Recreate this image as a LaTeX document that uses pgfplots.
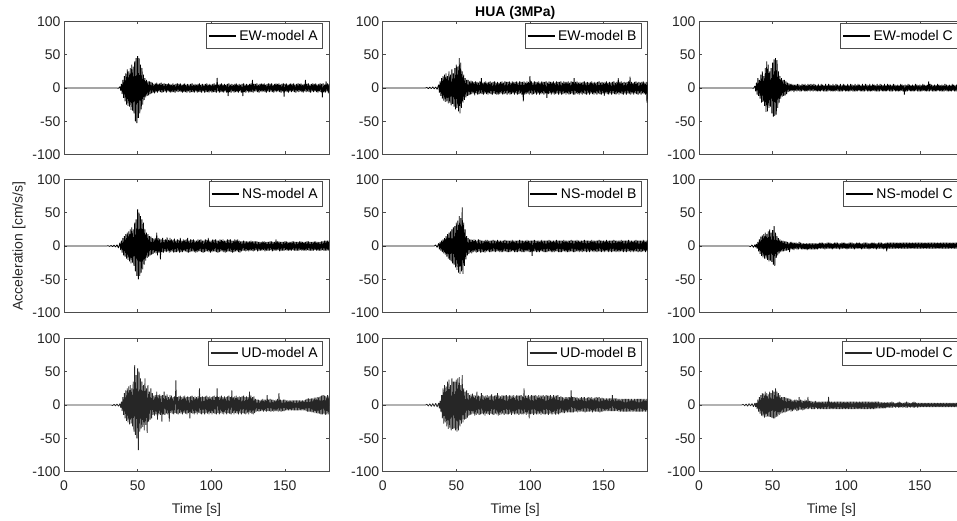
\documentclass[border=0pt]{standalone}
\usepackage{fontspec}
\setmainfont{Liberation Sans}
\usepackage{pgfplots}
\usepackage{pgfplotstable}
\pgfplotsset{compat=1.18}

% accelerograms, cm/s/s, one column per component and model
\pgfplotstableread{
t ewa ewb ewc nsa nsb nsc uda udb udc
0 0 0 0 0 0 0 0 0 0
28 0 0 0 0 0 0 0 0 0
29 0 0 0 0 0 0 0 0 0
30 0 0.8 0 0.5 0 0 0 1 1
31 0 -1 0 -0.6 0 0 0 -1.5 -1.2
32 0 1.2 0 0.8 0 0 0 1.8 1.5
33 0 -1 0 -1 0 0 -0.8 -2 -1.8
34 0 1.5 0 1.2 0 0 1 2.2 2
35 0 -1.2 0 -1.5 0 -1 -1.2 -2 -1.5
36 0 1.5 0 1.8 1.5 1.5 1.5 2.5 2.2
37 -0.5 -2 -0.5 -3 -2 -2 -1.8 -2.8 -2.5
38 2 5 3 5 4 2 2 3 3
38.5 -4 -7 -5 -6 -5 -2 -4 -5 -3
39 6 10 8 8 6 3 5 6 3
39.5 -9 -12 -10 -10 -7 -4 -9 -10 -6
40 12 15 15 12 8 6 12 15 8
40.5 -15 -16 -12 -14 -9 -8 -15 -20 -10
41 18 18 12 15 10 10 18 25 12
41.5 -20 -19 -16 -16 -11 -12 -20 -28 -13
42 22 20 20 18 12 14 22 30 15
42.5 -25 -21 -22 -19 -13 -15 -24 -26 -16
43 28 22 25 20 15 16 25 28 18
43.5 -27 -20 -21 -21 -16 -17 -26 -32 -17
44 25 18 18 22 18 18 28 35 17
44.5 -28 -23 -27 -23 -19 -19 -29 -36 -19
45 30 25 30 25 20 20 30 38 20
45.5 -33 -22 -36 -26 -21 -19 -28 -34 -18
46 35 20 40 28 22 18 25 30 18
46.5 -34 -26 -35 -25 -23 -21 -32 -38 -17
47 32 28 35 25 25 22 35 40 16
47.5 -38 -24 -30 -30 -26 -23 -40 -36 -18
48 40 22 25 35 28 25 60 35 20
48.5 -50 -28 -28 -38 -28 -22 -45 -35 -18
49 45 30 30 40 30 20 45 35 18
49.5 -53 -32 -38 -45 -32 -24 -50 -38 -19
50 48 35 38 55 35 24 55 38 22
50.5 -45 -30 -43 -50 -36 -28 -68 -40 -20
51 45 32 43 50 38 30 50 40 20
51.5 -38 -35 -42 -45 -40 -30 -40 -38 -20
52 35 45 45 45 45 20 40 42 25
52.5 -32 -38 -40 -40 -42 -18 -35 -32 -18
53 30 38 42 40 42 15 35 30 20
53.5 -25 -30 -30 -35 -38 -14 -33 -28 -17
54 20 25 25 35 58 12 30 45 18
54.5 -18 -22 -22 -28 -42 -11 -38 -26 -15
55 15 20 18 25 35 10 40 25 15
55.5 -14 -18 -16 -22 -30 -9 -30 -22 -13
56 12 15 15 20 25 8 25 20 12
56.5 -12 -14 -13 -18 -20 -8 -42 -21 -12
57 10 12 12 18 15 8 30 22 12
57.5 -11 -12 -12 -16 -14 -8 -25 -19 -11
58 10 12 12 15 12 7 20 18 12
58.5 -9 -11 -11 -14 -12 -7 -22 -16 -11
59 9 10 10 14 10 7 25 15 11
59.5 -8 -10 -9 -13 -10 -7 -20 -15 -10
60 8 11 8 12 10 6 18 16 10
60.5 -7 -9 -6 -12 -11 -6 -15 -14 -9
61 6 10 7 11 9 5 14 17 10
61.5 -8 -8 -5 -10 -9 -9 -16 -13 -8
62 7 9 6 12 10 6 15 15 9
62.5 -6 -11 -5 -11 -8 -5 -14 -16 -10
63 8 10 6 20 9 6 20 14 8
63.5 -7 -8 -4 -14 -10 -5 -22 -15 -9
64 6 9 5 12 8 5 15 20 7
64.5 -5 -10 -6 -10 -9 -6 -14 -13 -8
65 7 8 5 11 10 5 16 14 8
65.5 -6 -9 -4 -20 -8 -4 -15 -15 -7
66 8 10 5 10 9 5 14 13 8
66.5 -7 -8 -5 -9 -10 -5 -25 -14 -9
67 6 15 6 12 8 4 15 18 7
67.5 -6 -9 -4 -10 -9 -5 -14 -13 -8
68 7 8 5 9 8 6 20 15 12
68.5 -5 -10 -5 -8 -9 -4 -15 -14 -7
69 6 9 4 10 8 5 14 13 8
69.5 -7 -8 -5 -9 -10 -5 -13 -16 -7
70 6 10 6 13 9 4 16 14 7
70.5 -5 -9 -4 -8 -8 -5 -14 -13 -8
71 7 8 5 9 9 4 12 15 6
71.5 -6 -10 -5 -10 -8 -5 -25 -14 -7
72 6 9 6 12 8 4 15 13 8
72.5 -7 -8 -5 -9 -9 -5 -12 -15 -6
73 5 10 4 10 8 4 14 14 7
73.5 -6 -9 -5 -8 -9 -6 -13 -13 -6
74 7 8 6 9 8 4 12 16 12
74.5 -6 -10 -4 -10 -8 -5 -14 -14 -6
75 5 9 5 11 9 4 13 13 6
75.5 -7 -8 -5 -9 -8 -5 -12 -15 -5
76 6 10 6 8 8 4 37 14 6
76.5 -5 -9 -4 -9 -9 -5 -13 -13 -6
77 7 8 5 10 8 4 12 15 5
77.5 -6 -10 -5 -8 -8 -5 -14 -14 -6
78 6 9 6 9 9 4 13 18 5
78.5 -5 -10 -4 -10 -8 -5 -12 -16 -6
79 7 8 5 12 8 4 14 14 6
79.5 -6 -9 -5 -9 -9 -5 -13 -15 -5
80 5 9 4 8 8 4 12 13 5
80.5 -7 -8 -5 -9 -9 -5 -14 -14 -6
81 6 10 6 10 8 4 13 15 5
81.5 -6 -10 -5 -8 -9 -4 -12 -13 -6
82 7 8 4 9 8 5 14 14 5
82.5 -6 -9 -5 -8 -8 -4 -13 -15 -6
83 5 10 6 10 9 5 12 14 5
83.5 -7 -8 -4 -9 -8 -4 -14 -13 -6
84 6 9 5 12 8 5 13 15 5
84.5 -5 -10 -5 -10 -9 -4 -12 -14 -6
85 5 9 4 8 8 4 12 13 5
85.5 -7 -8 -5 -9 -9 -5 -20 -14 -6
86 6 10 6 10 8 4 13 15 5
86.5 -6 -10 -5 -8 -9 -4 -12 -13 -6
87 7 8 4 9 8 5 14 14 5
87.5 -6 -9 -5 -8 -8 -4 -13 -15 -6
88 5 10 6 10 9 5 12 14 12
88.5 -7 -8 -4 -9 -8 -4 -14 -13 -6
89 6 9 5 8 8 5 13 15 5
89.5 -5 -10 -5 -10 -9 -4 -12 -14 -6
90 5 9 4 8 8 4 12 13 5
90.5 -7 -8 -5 -9 -9 -5 -14 -14 -6
91 6 10 6 10 8 4 13 15 5
91.5 -6 -10 -5 -8 -9 -4 -12 -13 -6
92 7 8 4 9 8 5 25 14 5
92.5 -6 -9 -5 -8 -8 -4 -13 -15 -6
93 5 10 6 10 9 5 12 14 5
93.5 -7 -8 -4 -9 -8 -4 -14 -13 -6
94 6 9 5 8 8 5 13 15 5
94.5 -5 -10 -5 -10 -9 -4 -12 -14 -6
95 5 9 4 8 8 4 12 13 5
95.5 -7 -20 -5 -9 -9 -5 -14 -14 -6
96 6 10 6 10 8 4 13 25 5
96.5 -6 -10 -5 -8 -9 -4 -12 -13 -6
97 7 8 4 9 8 5 14 14 5
97.5 -6 -9 -5 -8 -8 -4 -13 -15 -6
98 5 10 6 12 9 5 12 14 5
98.5 -7 -8 -4 -9 -8 -4 -14 -13 -6
99 6 9 5 8 8 5 13 15 5
99.5 -5 -10 -5 -10 -9 -4 -12 -20 -6
100 5 18 4 8 8 4 12 13 5
100.5 -7 -8 -5 -9 -9 -5 -14 -14 -6
101 6 10 6 10 8 4 13 15 5
101.5 -6 -10 -5 -8 -15 -4 -12 -13 -6
102 7 8 4 9 8 5 14 14 5
102.5 -6 -9 -5 -8 -8 -4 -13 -15 -6
103 5 10 6 10 9 5 12 14 5
103.5 -7 -8 -4 -9 -8 -4 -14 -13 -6
104 15 9 5 8 8 5 25 15 5
104.5 -5 -10 -5 -10 -9 -4 -12 -14 -6
105 5 9 4 8 8 4 12 13 5
105.5 -7 -8 -5 -9 -9 -5 -14 -14 -6
106 6 10 6 10 8 4 13 15 5
106.5 -6 -10 -5 -8 -9 -4 -12 -13 -6
107 7 8 4 9 8 5 14 14 5
107.5 -6 -9 -5 -8 -8 -4 -13 -15 -6
108 5 10 6 10 9 5 12 14 5
108.5 -7 -8 -4 -9 -8 -4 -14 -13 -6
109 6 9 5 8 8 5 13 15 5
109.5 -5 -10 -5 -10 -9 -4 -12 -14 -6
110 5 9 4 8 8 4 12 13 5
110.5 -7 -8 -5 -9 -9 -5 -14 -14 -6
111 6 10 6 10 8 4 13 15 5
111.5 -12 -15 -5 -8 -9 -4 -12 -13 -6
112 7 8 4 9 8 5 14 14 5
112.5 -6 -9 -5 -8 -8 -4 -13 -15 -6
113 5 10 6 10 9 5 12 14 5
113.5 -7 -8 -4 -9 -8 -4 -14 -13 -6
114 6 9 5 8 8 5 22 15 5
114.5 -5 -10 -5 -10 -9 -4 -12 -14 -6
115 5 9 4 8 8 4 12 13 5
115.5 -7 -8 -5 -9 -9 -5 -14 -14 -6
116 6 10 6 10 8 4 13 15 5
116.5 -6 -10 -5 -8 -9 -4 -12 -13 -6
117 7 8 4 9 8 5 14 14 5
117.5 -6 -9 -5 -8 -8 -4 -13 -15 -6
118 5 10 6 10 9 5 12 14 5
118.5 -7 -8 -4 -9 -8 -4 -14 -13 -6
119 6 9 5 8 8 5 13 15 5
119.5 -5 -10 -5 -10 -9 -4 -12 -14 -6
120 5 9 4 7 8 4 12 12 5
120.5 -7 -8 -5 -8 -9 -5 -14 -12 -5
121 6 10 6 7 8 4 13 13 5
121.5 -12 -10 -5 -7 -9 -4 -12 -11 -5
122 7 8 4 8 8 5 14 12 5
122.5 -6 -9 -5 -7 -8 -4 -13 -12 -5
123 5 10 6 7 9 5 12 11 4
123.5 -7 -8 -4 -8 -8 -4 -14 -12 -5
124 6 9 5 7 8 5 13 12 4
124.5 -5 -10 -5 -7 -9 -4 -12 -11 -5
125 5 9 4 7 8 4 12 12 4
125.5 -7 -8 -5 -8 -9 -5 -14 -11 -5
126 6 10 6 7 8 4 20 12 4
126.5 -6 -10 -5 -7 -9 -4 -12 -11 -5
127 7 8 4 8 8 5 14 12 4
127.5 -6 -9 -5 -7 -8 -8 -13 -11 -4
128 12 10 6 7 9 5 12 22 4
128.5 -7 -8 -4 -8 -8 -4 -14 -11 -4
129 6 9 5 7 8 5 13 12 4
129.5 -5 -10 -5 -7 -9 -4 -12 -11 -4
130 6 15 5 7 8 5 9 12 4
130.5 -5 -10 -5 -6 -9 -4 -10 -10 -4
131 7 9 4 7 8 5 8 11 5
131.5 -6 -8 -5 -8 -8 -4 -9 -10 -4
132 5 10 6 6 9 5 8 12 4
132.5 -7 -9 -4 -7 -8 -4 -10 -11 -3
133 6 8 5 6 8 5 7 10 3
133.5 -5 -10 -5 -7 -9 -4 -9 -10 -4
134 7 9 4 6 8 5 8 11 3
134.5 -6 -8 -5 -7 -8 -4 -9 -10 -3
135 6 8 5 7 8 5 9 12 4
135.5 -5 -10 -5 -6 -9 -4 -10 -10 -4
136 7 9 4 7 8 5 8 11 5
136.5 -6 -8 -5 -8 -8 -4 -9 -10 -4
137 5 10 6 6 9 5 8 12 4
137.5 -7 -9 -4 -7 -8 -4 -10 -11 -3
138 6 8 5 6 8 5 15 10 3
138.5 -5 -10 -5 -7 -9 -4 -9 -10 -4
139 7 9 4 6 8 5 8 11 3
139.5 -6 -8 -10 -7 -8 -4 -9 -10 -3
140 6 8 5 7 8 5 9 12 4
140.5 -5 -10 -5 -6 -9 -4 -10 -10 -4
141 7 9 4 7 8 5 8 11 5
141.5 -6 -8 -5 -8 -8 -4 -9 -10 -4
142 5 10 6 6 9 5 8 12 4
142.5 -7 -9 -4 -7 -8 -4 -10 -11 -3
143 6 8 5 6 8 5 7 10 3
143.5 -5 -10 -5 -7 -9 -4 -9 -10 -4
144 7 9 4 10 8 5 8 11 3
144.5 -6 -8 -5 -7 -8 -4 -9 -10 -3
145 6 8 5 7 8 5 9 12 4
145.5 -5 -10 -5 -6 -9 -4 -10 -10 -4
146 7 9 4 7 8 5 18 11 5
146.5 -6 -8 -5 -8 -8 -4 -9 -10 -4
147 5 10 6 6 9 5 8 12 4
147.5 -7 -9 -4 -7 -8 -4 -10 -11 -3
148 6 8 5 6 8 5 7 10 3
148.5 -5 -10 -5 -7 -9 -4 -9 -10 -4
149 7 9 4 6 8 5 8 11 3
149.5 -13 -8 -5 -7 -8 -4 -9 -10 -3
150 6 8 5 7 8 5 8 10 3
150.5 -5 -12 -5 -6 -9 -4 -8 -9 -3
151 7 9 4 7 8 5 7 10 3
151.5 -6 -8 -5 -7 -8 -4 -8 -9 -3
152 5 10 6 6 9 5 7 10 3
152.5 -7 -9 -4 -7 -8 -4 -8 -9 -3
153 6 8 5 6 8 5 7 10 3
153.5 -5 -10 -5 -7 -9 -4 -8 -9 -3
154 7 9 4 6 8 5 7 10 3
154.5 -6 -8 -5 -7 -8 -4 -8 -9 -3
155 6 8 5 7 8 5 7 10 3
155.5 -5 -10 -5 -6 -9 -4 -8 -9 -3
156 7 9 10 7 8 5 7 15 3
156.5 -6 -8 -5 -7 -8 -4 -8 -9 -3
157 5 10 6 6 9 5 7 10 3
157.5 -7 -9 -4 -7 -8 -4 -8 -9 -3
158 6 8 5 6 8 5 7 10 3
158.5 -5 -10 -5 -7 -9 -4 -8 -9 -3
159 7 9 4 6 8 5 7 10 3
159.5 -6 -8 -5 -7 -8 -4 -8 -9 -3
160 6 15 5 7 8 5 7 9 3
160.5 -5 -10 -5 -6 -9 -4 -8 -10 -3
161 7 9 4 7 8 5 7 9 3
161.5 -6 -8 -5 -7 -8 -4 -8 -10 -3
162 5 10 6 6 9 5 7 9 3
162.5 -7 -9 -4 -7 -8 -4 -8 -10 -3
163 6 8 5 6 8 5 7 9 3
163.5 -5 -10 -5 -7 -9 -4 -8 -10 -3
164 12 9 4 6 8 5 8 9 3
164.5 -6 -8 -5 -7 -8 -4 -9 -10 -3
165 6 8 5 7 8 5 9 9 3
165.5 -5 -10 -5 -6 -9 -4 -10 -10 -3
166 7 9 4 7 8 5 10 9 3
166.5 -6 -8 -5 -7 -8 -4 -10 -10 -3
167 5 10 6 6 9 5 9 9 3
167.5 -7 -9 -4 -7 -8 -4 -10 -10 -3
168 6 17 5 6 8 5 10 9 3
168.5 -5 -10 -5 -7 -9 -4 -11 -10 -3
169 7 9 4 6 8 5 10 9 3
169.5 -6 -8 -5 -7 -8 -4 -11 -10 -3
170 6 8 5 7 8 5 11 9 3
170.5 -5 -10 -5 -6 -9 -4 -12 -10 -3
171 7 9 4 7 8 5 11 9 3
171.5 -6 -8 -5 -7 -8 -4 -12 -10 -3
172 5 10 6 6 9 5 12 9 3
172.5 -7 -9 -4 -7 -8 -4 -13 -10 -3
173 6 8 5 6 8 5 12 9 3
173.5 -5 -10 -5 -7 -9 -4 -13 -10 -3
174 7 9 4 6 8 5 13 9 3
174.5 -6 -8 -5 -7 -8 -4 -14 -10 -3
175 6 8 5 7 8 5 14 9 3
175.5 -14 -10 -5 -6 -9 -4 -14 -10 -3
176 7 9 4 7 8 5 15 9 3
176.5 -6 -8 -5 -7 -8 -4 -13 -10 -3
177 5 10 6 8 9 5 14 9 3
177.5 -7 -9 -4 -7 -8 -4 -15 -10 -3
178 10 8 5 8 8 5 13 9 3
178.5 -5 -10 -5 -7 -9 -4 -14 -10 -3
179 7 9 4 8 8 5 15 9 3
179.5 -8 -22 -5 -7 -8 -4 -14 -10 -3
180 6 9 5 8 9 5 14 9 3
}\acc

\definecolor{axgray}{gray}{0.3}

\pgfplotsset{
  pnl/.style={
    width=265pt, height=133pt, scale only axis,
    anchor=north west,
    xmin=0, xmax=180, ymin=-100, ymax=100,
    xtick={0,50,100,150}, ytick={-100,-50,0,50,100},
    xticklabels={}, yticklabels={-100,-50,0,50,100},
    tick align=inside, major tick length=3pt,
    xtick pos=both, ytick pos=both,
    xticklabel pos=lower, yticklabel pos=left,
    axis line style={axgray, line width=0.6pt},
    every tick/.style={axgray, line width=0.6pt},
    tick label style={font=\fontsize{14}{14}\selectfont, text=black!85},
    xticklabel style={yshift=-6pt},
    label style={font=\fontsize{14}{14}\selectfont, text=black!85},
    legend style={at={(1,1)}, anchor=north east, xshift=-6pt, yshift=-2pt,
      draw=axgray, line width=0.6pt, inner xsep=2pt, inner ysep=2.4pt,
      font=\fontsize{14}{14}\selectfont,
      nodes={inner xsep=3pt, inner ysep=4pt}},
    legend image code/.code={\draw[##1, line width=1.1pt] (0pt,0pt) -- (27pt,0pt);},
  },
  bot/.style={xticklabels={0,50,100,150}, xlabel={Time [s]},
    xlabel style={yshift=-6pt}},
  hz/.style={black, line width=0.8pt, line join=bevel},
  vt/.style={black!85, line width=0.8pt, line join=bevel},
}

\begin{document}
\begin{tikzpicture}
% row 1: EW
\begin{axis}[pnl, at={(64pt,-21.5pt)}]
\addplot[hz] table[x=t, y=ewa] {\acc};
\legend{EW-model A}
\end{axis}
\begin{axis}[pnl, at={(382.7pt,-21.5pt)},
  title={\bfseries HUA (3MPa)},
  title style={font=\fontsize{14}{14}\selectfont, yshift=-7pt}]
\addplot[hz] table[x=t, y=ewb] {\acc};
\legend{EW-model B}
\end{axis}
\begin{axis}[pnl, at={(699pt,-21.5pt)}]
\addplot[hz] table[x=t, y=ewc] {\acc};
\legend{EW-model C}
\end{axis}
% row 2: NS
\begin{axis}[pnl, at={(64pt,-179.5pt)}, ylabel={Acceleration [cm/s/s]}]
\addplot[hz] table[x=t, y=nsa] {\acc};
\legend{NS-model A}
\end{axis}
\begin{axis}[pnl, at={(382.7pt,-179.5pt)}]
\addplot[hz] table[x=t, y=nsb] {\acc};
\legend{NS-model B}
\end{axis}
\begin{axis}[pnl, at={(699pt,-179.5pt)}]
\addplot[hz] table[x=t, y=nsc] {\acc};
\legend{NS-model C}
\end{axis}
% row 3: UD
\begin{axis}[pnl, bot, at={(64pt,-338.5pt)}]
\addplot[vt] table[x=t, y=uda] {\acc};
\legend{UD-model A}
\end{axis}
\begin{axis}[pnl, bot, at={(382.7pt,-338.5pt)}]
\addplot[vt] table[x=t, y=udb] {\acc};
\legend{UD-model B}
\end{axis}
\begin{axis}[pnl, bot, at={(699pt,-338.5pt)}]
\addplot[vt] table[x=t, y=udc] {\acc};
\legend{UD-model C}
\end{axis}
\pgfresetboundingbox
\path[use as bounding box] (0pt,0pt) rectangle (957pt,-521pt);
\end{tikzpicture}
\end{document}
